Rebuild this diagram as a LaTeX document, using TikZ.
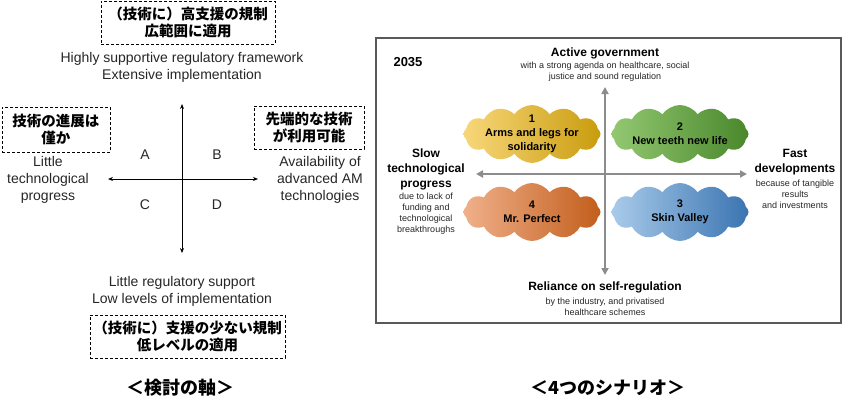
\documentclass[tikz,border=0pt]{standalone}
\usepackage{fontspec}
\setmainfont{Liberation Sans}
\newfontfamily\jafont{Noto Sans CJK JP}
\usetikzlibrary{arrows.meta,shapes.symbols}
\definecolor{axisgray}{HTML}{8C8C8C}
\definecolor{framegray}{HTML}{595959}
\definecolor{yelA}{HTML}{F8D77A}
\definecolor{yelB}{HTML}{C99C0E}
\definecolor{grnA}{HTML}{93C871}
\definecolor{grnB}{HTML}{4A872B}
\definecolor{orgA}{HTML}{F0B08A}
\definecolor{orgB}{HTML}{C25E1C}
\definecolor{bluA}{HTML}{A9CBEA}
\definecolor{bluB}{HTML}{3A74B1}
\tikzset{
	jabox/.style={draw, dash pattern=on 3pt off 2pt, line width=0.8pt, align=center, inner sep=0pt, font=\jafont\bfseries\fontsize{14.5}{17.5}\selectfont},
	entext/.style={align=center, text=black!85, font=\fontsize{14}{17}\selectfont},
	axisL/.style={line width=0.8pt, >={Stealth[length=5pt,width=4pt]}, <->},
	axisR/.style={line width=2pt, color=axisgray, >={Triangle[length=7pt,width=7pt]}, <->},
	headR/.style={align=center, font=\bfseries\fontsize{12}{15}\selectfont},
	subR/.style={align=center, font=\fontsize{9}{11}\selectfont, text=black!85},
	scen/.style={cloud, cloud puffs=12, cloud puff arc=110, aspect=2.4, minimum width=137pt, minimum height=58pt, inner sep=0pt},
	scenlabel/.style={align=center, font=\bfseries\fontsize{11}{14}\selectfont},
	captionja/.style={font=\jafont\bfseries\fontsize{18}{20}\selectfont}
}

\begin{document}
\begin{tikzpicture}[x=1pt, y=-1pt]
		%%%%% START %%%%%
		\useasboundingbox (0,0) rectangle (844,410);
		
		% axes for the study
		\node[jabox, minimum width=174pt, minimum height=43pt] (boxN) at (188,22.5) {（技術に）高支援の規制\\広範囲に適用};
		\node[entext] (txtN) at (182,67) {Highly supportive regulatory framework\\Extensive implementation};
		\node[jabox, minimum width=108pt, minimum height=45pt] (boxW) at (56,129.5) {技術の進展は\\僅か};
		\node[entext] (txtW) at (48,180) {Little\\technological\\progress};
		\node[jabox, minimum width=110pt, minimum height=43pt] (boxE) at (309,127.5) {先端的な技術\\が利用可能};
		\node[entext] (txtE) at (320,180) {Availability of\\advanced AM\\technologies};
		\node[entext] (txtS) at (182,291.5) {Little regulatory support\\Low levels of implementation};
		\node[jabox, minimum width=195pt, minimum height=43pt] (boxS) at (187.5,336.5) {（技術に）支援の少ない規制\\低レベルの適用};
		
		\coordinate (lN) at (182,104);
		\coordinate (lS) at (182,253);
		\coordinate (lW) at (108,179);
		\coordinate (lE) at (258,179);
		\draw[axisL] (lN) -- (lS);
		\draw[axisL] (lW) -- (lE);
		
		\node[entext] (qA) at (145,155) {A};
		\node[entext] (qB) at (217,155) {B};
		\node[entext] (qC) at (145,205) {C};
		\node[entext] (qD) at (217,205) {D};
		
		\node[captionja] (capL) at (180,388) {＜検討の軸＞};
		
		% four scenarios
		\draw[line width=1.5pt, color=framegray] (376,38) rectangle (841,323);
		\node[font=\bfseries\fontsize{13}{15}\selectfont] (year) at (408,62) {2035};
		
		\coordinate (rN) at (605,87);
		\coordinate (rS) at (605,275);
		\coordinate (rW) at (476,174);
		\coordinate (rE) at (747,174);
		\draw[axisR] (rN) -- (rS);
		\draw[axisR] (rW) -- (rE);
		
		\node[headR] (hN) at (605,53) {Active government};
		\node[subR] (sN) at (605,71.5) {with a strong agenda on healthcare, social\\justice and sound regulation};
		\node[headR] (hW) at (426,169) {Slow\\technological\\progress};
		\node[subR] (sW) at (426,214) {due to lack of\\funding and\\technological\\breakthroughs};
		\node[headR] (hE) at (795,162.5) {Fast\\developments};
		\node[subR] (sE) at (795,194) {because of tangible\\results\\and investments};
		\node[headR] (hS) at (605,287) {Reliance on self-regulation};
		\node[subR] (sS) at (605,306.5) {by the industry, and privatised\\healthcare schemes};
		
		\node[scen, left color=yelA, right color=yelB] (sc1) at (532,134) {};
		\node[scen, left color=grnA, right color=grnB] (sc2) at (680,134) {};
		\node[scen, left color=bluA, right color=bluB] (sc3) at (680,212) {};
		\node[scen, left color=orgA, right color=orgB] (sc4) at (532,212) {};
		\node[scenlabel] (lb1) at (sc1) {1\\Arms and legs for\\solidarity};
		\node[scenlabel] (lb2) at (sc2) {2\\New teeth new life};
		\node[scenlabel] (lb3) at (sc3) {3\\Skin Valley};
		\node[scenlabel] (lb4) at (sc4) {4\\Mr. Perfect};
		
		\node[captionja] (capR) at (608,388) {＜4つのシナリオ＞};
		%%%%% END %%%%%
	\end{tikzpicture}
\end{document}
